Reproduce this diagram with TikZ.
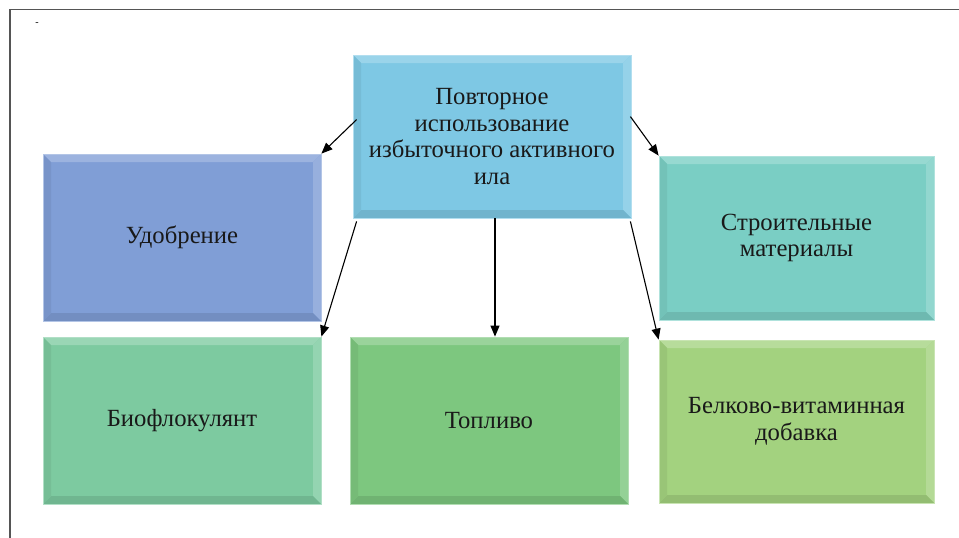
\documentclass[tikz,border=0pt]{standalone}
\usepackage{fontspec}
\setmainfont{LiberationSerif}[Extension=.ttf, UprightFont=*-Regular, BoldFont=*-Bold]
\usetikzlibrary{arrows.meta,calc}
\definecolor{cBlue}{RGB}{126,200,228}
\definecolor{cViolet}{RGB}{128,158,214}
\definecolor{cTeal}{RGB}{122,206,196}
\definecolor{cMint}{RGB}{125,202,160}
\definecolor{cGreen}{RGB}{125,199,127}
\definecolor{cLime}{RGB}{163,210,127}
\definecolor{cFrame}{RGB}{85,85,85}
\tikzset{
  box/.style={draw=#1!60!white, line width=0.8pt, fill=#1, inner sep=0pt,
    font=\fontsize{24.7}{26.5}\selectfont, text=black!90, align=center,
    path picture={
      \fill[#1!78!white] (path picture bounding box.north west) -- (path picture bounding box.north east)
        -- ([shift={(-8pt,-8pt)}]path picture bounding box.north east) -- ([shift={(8pt,-8pt)}]path picture bounding box.north west) -- cycle;
      \fill[#1!82!white] (path picture bounding box.north east) -- (path picture bounding box.south east)
        -- ([shift={(-8pt,8pt)}]path picture bounding box.south east) -- ([shift={(-8pt,-8pt)}]path picture bounding box.north east) -- cycle;
      \fill[#1!90!black] (path picture bounding box.south east) -- (path picture bounding box.south west)
        -- ([shift={(8pt,8pt)}]path picture bounding box.south west) -- ([shift={(-8pt,8pt)}]path picture bounding box.south east) -- cycle;
      \fill[#1!94!black] (path picture bounding box.south west) -- (path picture bounding box.north west)
        -- ([shift={(8pt,-8pt)}]path picture bounding box.north west) -- ([shift={(8pt,8pt)}]path picture bounding box.south west) -- cycle;
    }},
  conn/.style={line width=1.1pt, black, -{Triangle[length=11pt,width=9pt]}}
}
\begin{document}
\begin{tikzpicture}[x=1pt,y=-1pt]
\useasboundingbox (0,0) rectangle (959,538);
\draw[cFrame, line width=1.5pt] (10,538) coordinate (fb) -- (10,9.5) coordinate (fc) -- (959,9.5) coordinate (fr);
\node[font=\fontsize{10}{10}\selectfont, inner sep=0pt] (dash) at (37,24) {-};

\node[box=cBlue, minimum width=278pt, minimum height=163pt] (c) at (492,136.5)
  {Повторное\\использование\\избыточного активного\\ила};
\node[box=cViolet, minimum width=278pt, minimum height=167pt] (ud) at (182,237.5) {Удобрение};
\node[box=cTeal, minimum width=275pt, minimum height=164pt] (st) at (796.5,238) {Строительные\\материалы};
\node[box=cMint, minimum width=278pt, minimum height=167pt] (bio) at (182,420.5) {Биофлокулянт};
\node[box=cGreen, minimum width=278pt, minimum height=167pt] (top) at (489,420.5) {Топливо};
\node[box=cLime, minimum width=275pt, minimum height=163pt] (bel) at (796.5,421.5) {Белково-витаминная\\добавка};

\draw[conn] ([shift={(4pt,-65pt)}]c.north west) -- (ud.north east);
\draw[conn] ([shift={(-1pt,-62pt)}]c.north east) -- (st.north west);
\draw[conn] ([shift={(4pt,-3pt)}]c.south west) -- (bio.north east);
\draw[conn] ([shift={(3pt,0pt)}]c.south) -- ([shift={(3pt,0pt)}]c.south |- top.north);
\draw[conn] ([shift={(-1pt,-3pt)}]c.south east) -- (bel.north west);
\end{tikzpicture}
\end{document}
